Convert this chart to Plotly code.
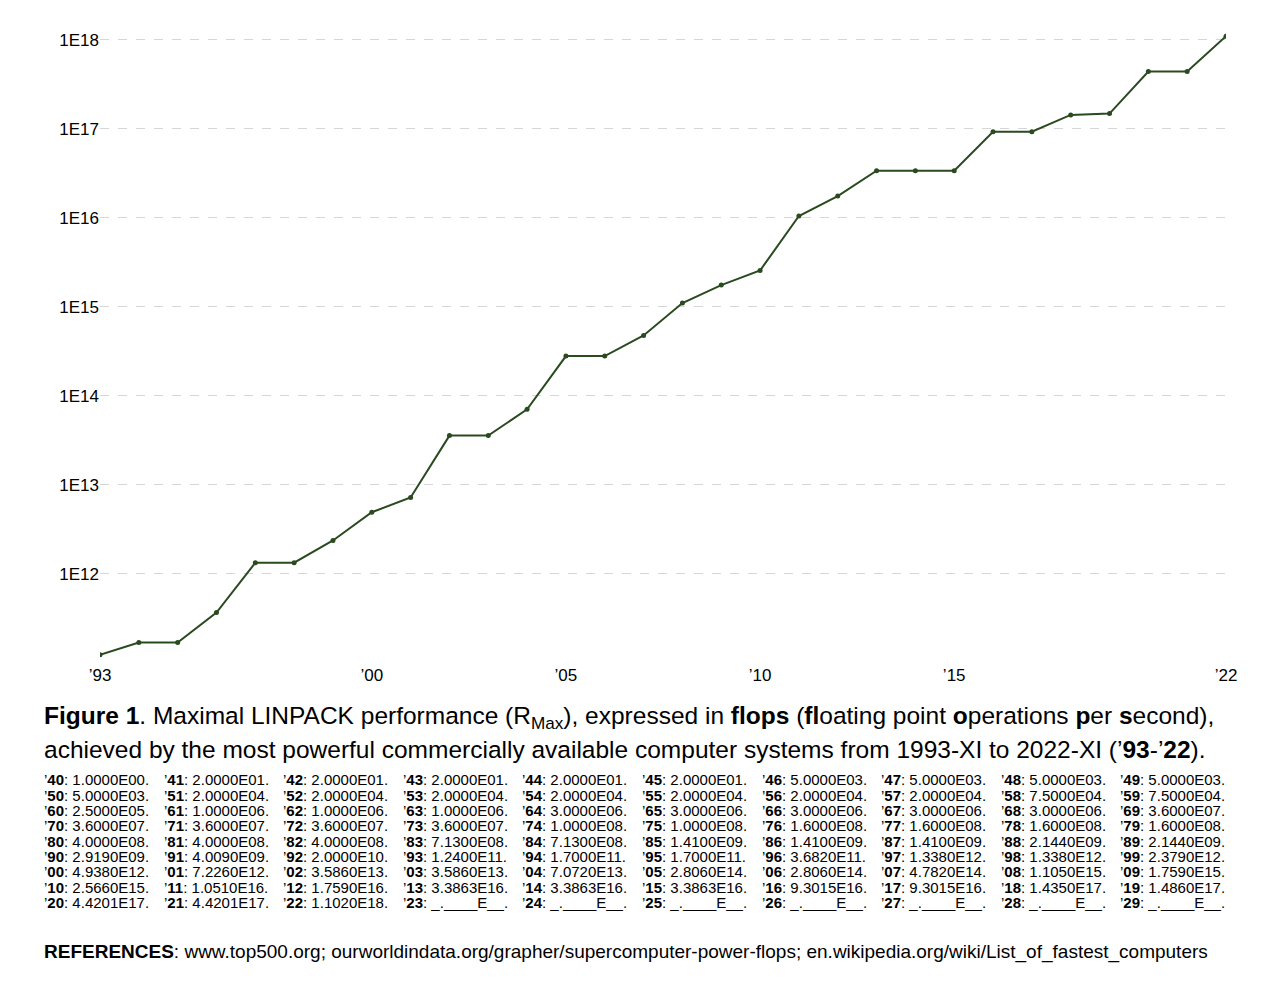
import plotly.graph_objects as go

years = list(range(1993, 2023))
rmax = [1.24e11, 1.7e11, 1.7e11, 3.682e11, 1.338e12, 1.338e12, 2.379e12, 4.938e12, 7.226e12,
        3.586e13, 3.586e13, 7.072e13, 2.806e14, 2.806e14, 4.782e14, 1.105e15, 1.759e15, 2.566e15,
        1.051e16, 1.759e16, 3.3863e16, 3.3863e16, 3.3863e16, 9.3015e16, 9.3015e16, 1.435e17,
        1.486e17, 4.4201e17, 4.4201e17, 1.102e18]
tick_years = [1993, 2000, 2005, 2010, 2015, 2022]
tick_labels = ["’93", "’00", "’05", "’10", "’15", "’22"]
ytick_vals = [1e12, 1e13, 1e14, 1e15, 1e16, 1e17, 1e18]
ytick_labels = ["1E12", "1E13", "1E14", "1E15", "1E16", "1E17", "1E18"]

table_rows = [
    [("40","1.0000E00"),("41","2.0000E01"),("42","2.0000E01"),("43","2.0000E01"),("44","2.0000E01"),("45","2.0000E01"),("46","5.0000E03"),("47","5.0000E03"),("48","5.0000E03"),("49","5.0000E03")],
    [("50","5.0000E03"),("51","2.0000E04"),("52","2.0000E04"),("53","2.0000E04"),("54","2.0000E04"),("55","2.0000E04"),("56","2.0000E04"),("57","2.0000E04"),("58","7.5000E04"),("59","7.5000E04")],
    [("60","2.5000E05"),("61","1.0000E06"),("62","1.0000E06"),("63","1.0000E06"),("64","3.0000E06"),("65","3.0000E06"),("66","3.0000E06"),("67","3.0000E06"),("68","3.0000E06"),("69","3.6000E07")],
    [("70","3.6000E07"),("71","3.6000E07"),("72","3.6000E07"),("73","3.6000E07"),("74","1.0000E08"),("75","1.0000E08"),("76","1.6000E08"),("77","1.6000E08"),("78","1.6000E08"),("79","1.6000E08")],
    [("80","4.0000E08"),("81","4.0000E08"),("82","4.0000E08"),("83","7.1300E08"),("84","7.1300E08"),("85","1.4100E09"),("86","1.4100E09"),("87","1.4100E09"),("88","2.1440E09"),("89","2.1440E09")],
    [("90","2.9190E09"),("91","4.0090E09"),("92","2.0000E10"),("93","1.2400E11"),("94","1.7000E11"),("95","1.7000E11"),("96","3.6820E11"),("97","1.3380E12"),("98","1.3380E12"),("99","2.3790E12")],
    [("00","4.9380E12"),("01","7.2260E12"),("02","3.5860E13"),("03","3.5860E13"),("04","7.0720E13"),("05","2.8060E14"),("06","2.8060E14"),("07","4.7820E14"),("08","1.1050E15"),("09","1.7590E15")],
    [("10","2.5660E15"),("11","1.0510E16"),("12","1.7590E16"),("13","3.3863E16"),("14","3.3863E16"),("15","3.3863E16"),("16","9.3015E16"),("17","9.3015E16"),("18","1.4350E17"),("19","1.4860E17")],
    [("20","4.4201E17"),("21","4.4201E17"),("22","1.1020E18"),("23","_.____E__"),("24","_.____E__"),("25","_.____E__"),("26","_.____E__"),("27","_.____E__"),("28","_.____E__"),("29","_.____E__")],
]

FONT = "Liberation Sans Narrow, Arial Narrow, Liberation Sans, sans-serif"
OFF = 8  # page offset
fig = go.Figure()
fig.add_trace(go.Scatter(x=years, y=rmax, mode="lines+markers",
                         line=dict(color="#2a4a1f", width=2), marker=dict(color="#2a4a1f", size=5)))

H = 997
top, bottom = 31 - OFF, 663 - OFF
def py(p):
    return (bottom - (p - OFF)) / (bottom - top)
L, R = 100 - OFF, 1226 - OFF
def px(p):
    return ((p - OFF) - L) / (R - L)

anns = []
anns.append(dict(x=px(42), y=py(717), xref="paper", yref="paper", xanchor="left", yanchor="middle", showarrow=False,
                 text="<b>Figure 1</b>. Maximal LINPACK performance (R<sub>Max</sub>), expressed in <b>flops</b> (<b>fl</b>oating point <b>o</b>perations <b>p</b>er <b>s</b>econd),",
                 font=dict(size=24.5, family=FONT, color="black")))
anns.append(dict(x=px(42), y=py(749), xref="paper", yref="paper", xanchor="left", yanchor="middle", showarrow=False,
                 text="achieved by the most powerful commercially available computer systems from 1993-XI to 2022-XI (’<b>93</b>-’<b>22</b>).",
                 font=dict(size=24.5, family=FONT, color="black")))
for i, row in enumerate(table_rows):
    for j, (yr, val) in enumerate(row):
        anns.append(dict(x=px(42 + j * 119.6), y=py(780 + i * 15.3), xref="paper", yref="paper", xanchor="left",
                         yanchor="middle", showarrow=False, text=f"’<b>{yr}</b>: {val}.",
                         font=dict(size=15, family=FONT, color="black")))
anns.append(dict(x=px(42), y=py(952), xref="paper", yref="paper", xanchor="left", yanchor="middle", showarrow=False,
                 text="<b>REFERENCES</b>: www.top500.org; ourworldindata.org/grapher/supercomputer-power-flops; en.wikipedia.org/wiki/List_of_fastest_computers",
                 font=dict(size=19, family=FONT, color="black")))

fig.update_layout(
    width=1280, height=H, paper_bgcolor="white", plot_bgcolor="white", showlegend=False,
    margin=dict(l=L, r=1280 - R, t=top, b=H - bottom),
    font=dict(family=FONT, size=17, color="black"),
    xaxis=dict(range=[1993, 2022], tickvals=tick_years, ticktext=tick_labels, showgrid=False,
               zeroline=False, showline=False, ticks="", tickfont=dict(size=17)),
    yaxis=dict(type="log", range=[11.0, 18.1], tickvals=ytick_vals, ticktext=ytick_labels,
               showgrid=True, gridcolor="#d6d6d6", griddash="dash", zeroline=False, showline=False,
               ticks="", tickfont=dict(size=17)),
    annotations=anns,
)
fig.write_html("out.html")
